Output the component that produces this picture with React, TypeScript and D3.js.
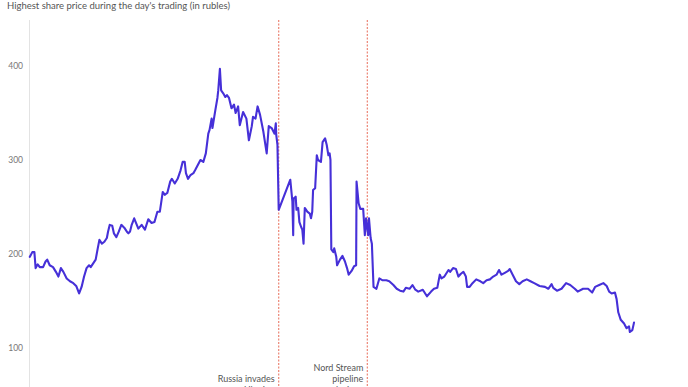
import * as d3 from "d3";

const dates = [
  "2020-07-03", "2020-07-09", "2020-07-14", "2020-07-17", "2020-07-22", "2020-07-27",
  "2020-08-04", "2020-08-10", "2020-08-14", "2020-08-20", "2020-08-28", "2020-09-04",
  "2020-09-10", "2020-09-16", "2020-09-22", "2020-09-30", "2020-10-08", "2020-10-16",
  "2020-10-23", "2020-10-30", "2020-11-05", "2020-11-11", "2020-11-17", "2020-11-23",
  "2020-11-27", "2020-12-03", "2020-12-09", "2020-12-14", "2020-12-18", "2020-12-24",
  "2020-12-30", "2021-01-05", "2021-01-08", "2021-01-12", "2021-01-18", "2021-01-22",
  "2021-01-28", "2021-02-03", "2021-02-09", "2021-02-16", "2021-02-22", "2021-02-26",
  "2021-03-02", "2021-03-06", "2021-03-12", "2021-03-22", "2021-03-30", "2021-04-07",
  "2021-04-15", "2021-04-23", "2021-04-30", "2021-05-07", "2021-05-13", "2021-05-20",
  "2021-05-25", "2021-05-31", "2021-06-07", "2021-06-11", "2021-06-18", "2021-06-25",
  "2021-07-02", "2021-07-07", "2021-07-12", "2021-07-15", "2021-07-20", "2021-07-26",
  "2021-08-02", "2021-08-06", "2021-08-13", "2021-08-19", "2021-08-26", "2021-09-01",
  "2021-09-07", "2021-09-10", "2021-09-15", "2021-09-17", "2021-09-24", "2021-09-29",
  "2021-10-01", "2021-10-05", "2021-10-08", "2021-10-13", "2021-10-18", "2021-10-22",
  "2021-10-27", "2021-11-02", "2021-11-08", "2021-11-12", "2021-11-18", "2021-11-22",
  "2021-11-30", "2021-12-08", "2021-12-14", "2021-12-21", "2021-12-24", "2021-12-30",
  "2022-01-04", "2022-01-10", "2022-01-18", "2022-01-26", "2022-01-31", "2022-02-07",
  "2022-02-14", "2022-02-17", "2022-02-18", "2022-02-21", "2022-02-24", "2022-03-24",
  "2022-03-29", "2022-03-31", "2022-04-01", "2022-04-06", "2022-04-08", "2022-04-12",
  "2022-04-15", "2022-04-19", "2022-04-22", "2022-04-25", "2022-04-28", "2022-05-04",
  "2022-05-10", "2022-05-13", "2022-05-16", "2022-05-18", "2022-05-23", "2022-05-27",
  "2022-05-30", "2022-06-06", "2022-06-10", "2022-06-16", "2022-06-20", "2022-06-24",
  "2022-06-27", "2022-06-29", "2022-07-01", "2022-07-06", "2022-07-08", "2022-07-13",
  "2022-07-15", "2022-07-22", "2022-07-28", "2022-08-03", "2022-08-08", "2022-08-12",
  "2022-08-19", "2022-08-25", "2022-08-30", "2022-08-31", "2022-09-05", "2022-09-09",
  "2022-09-16", "2022-09-20", "2022-09-23", "2022-09-28", "2022-09-30", "2022-10-04",
  "2022-10-07", "2022-10-11", "2022-10-18", "2022-10-25", "2022-11-02", "2022-11-11",
  "2022-11-18", "2022-11-28", "2022-12-06", "2022-12-14", "2022-12-22", "2022-12-28",
  "2023-01-06", "2023-01-13", "2023-01-20", "2023-01-27", "2023-02-07", "2023-02-17",
  "2023-02-27", "2023-03-06", "2023-03-14", "2023-03-20", "2023-03-24", "2023-03-31",
  "2023-04-10", "2023-04-14", "2023-04-21", "2023-04-28", "2023-05-04", "2023-05-10",
  "2023-05-16", "2023-05-22", "2023-05-25", "2023-05-31", "2023-06-07", "2023-06-16",
  "2023-06-26", "2023-07-03", "2023-07-11", "2023-07-19", "2023-07-27", "2023-08-04",
  "2023-08-10", "2023-08-16", "2023-08-24", "2023-09-01", "2023-09-05", "2023-09-12",
  "2023-09-20", "2023-09-28", "2023-10-06", "2023-10-16", "2023-10-25", "2023-11-03",
  "2023-11-16", "2023-11-29", "2023-12-07", "2023-12-15", "2023-12-19", "2023-12-28",
  "2024-01-08", "2024-01-19", "2024-01-29", "2024-02-09", "2024-02-16", "2024-02-29",
  "2024-03-12", "2024-03-22", "2024-03-29", "2024-04-08", "2024-04-18", "2024-04-26",
  "2024-05-02", "2024-05-08", "2024-05-16", "2024-05-20", "2024-05-24", "2024-05-30",
  "2024-06-07", "2024-06-13", "2024-06-19", "2024-06-21", "2024-06-27", "2024-07-01",
];

// highest price of the day, rubles
const prices = [
  197, 202, 202, 185, 189, 186,
  186, 192, 194, 188, 186, 181,
  176, 185, 181, 174, 171, 169,
  166, 158, 165, 176, 185, 188,
  186, 190, 194, 206, 215, 211,
  213, 217, 224, 231, 230, 222,
  218, 224, 231, 228, 224, 222,
  224, 231, 238, 227, 231, 226,
  237, 233, 234, 245, 245, 266,
  263, 265, 277, 280, 275, 280,
  289, 298, 298, 286, 280, 284,
  286, 289, 295, 300, 298, 307,
  328, 332, 344, 334, 353, 366,
  374, 397, 374, 371, 367, 369,
  366, 355, 359, 350, 357, 337,
  351, 344, 321, 336, 346, 344,
  357, 348, 330, 307, 336, 334,
  328, 339, 327, 316, 247, 279,
  256, 220, 259, 261, 247, 249,
  234, 229, 226, 211, 249, 245,
  243, 238, 245, 268, 270, 305,
  300, 298, 319, 323, 316, 305,
  307, 300, 205, 202, 206, 197,
  188, 194, 198, 192, 185, 178,
  182, 187, 188, 277, 254, 248,
  248, 220, 238, 220, 238, 217,
  211, 165, 163, 174, 172, 172,
  171, 167, 163, 161, 160, 164,
  163, 167, 162, 160, 162, 155,
  160, 163, 164, 178, 174, 176,
  183, 181, 185, 184, 176, 179,
  181, 176, 165, 165, 169, 173,
  171, 169, 172, 173, 176, 178,
  183, 178, 180, 182, 184, 178,
  171, 168, 171, 173, 171, 169,
  166, 165, 163, 168, 164, 161,
  163, 169, 167, 163, 160, 163,
  163, 159, 165, 167, 169, 166,
  160, 158, 159, 152, 138, 130,
  126, 121, 123, 117, 119, 127,
];

const yTicks = [100, 200, 300, 400];

const eventDates = ["2022-02-24", "2022-09-26"];
const eventLabels = [
  ["Russia invades", "Ukraine"],
  ["Nord Stream", "pipeline", "explosions"],
];

const TITLE = "Highest share price during the day's trading (in rubles)";

const WIDTH = 688;
const HEIGHT = 387;
const FONT = "Lato, 'Noto Sans', sans-serif";

const parse = d3.timeParse("%Y-%m-%d");

export default function App() {
  const points = dates.map((d, i) => ({ date: parse(d) as Date, value: prices[i] }));

  const x = d3
    .scaleTime()
    .domain([parse("2020-07-01") as Date, parse("2024-07-01") as Date])
    .range([29, 634]);

  const y = d3.scaleLinear().domain([100, 400]).range([348, 66]);

  const line = d3
    .line<{ date: Date; value: number }>()
    .x((d) => x(d.date))
    .y((d) => y(d.value));

  const plotTop = 20;

  return (
    <div style={{ position: "absolute", left: 0, top: 0 }}>
      <svg width={WIDTH} height={HEIGHT} style={{ display: "block", overflow: "hidden" }} fontFamily={FONT}>
        <rect width={WIDTH} height={HEIGHT} fill="#fff" />
        <text x={7} y={9} fontSize={9.5} fill="#555">
          {TITLE}
        </text>

        {/* left axis line */}
        <line x1={29.5} x2={29.5} y1={plotTop} y2={HEIGHT} stroke="#e3e3e3" strokeWidth={1} />

        {yTicks.map((t) => (
          <text
            key={t}
            x={23}
            y={y(t)}
            dy="0.35em"
            textAnchor="end"
            fontSize={8.5}
            fill="#777"
          >
            {t}
          </text>
        ))}

        {eventDates.map((d, i) => {
          const ex = x(parse(d) as Date);
          const lines = eventLabels[i];
          const baseY = 393 - (lines.length - 1) * 11;
          return (
            <g key={d}>
              <line
                x1={ex}
                x2={ex}
                y1={plotTop}
                y2={HEIGHT}
                stroke="#ec8474"
                strokeWidth={1.2}
                strokeDasharray="2 1.5"
              />
              <text x={ex - 4} textAnchor="end" fontSize={9} fill="#555">
                {lines.map((l, j) => (
                  <tspan key={j} x={ex - 4} y={baseY + j * 11}>
                    {l}
                  </tspan>
                ))}
              </text>
            </g>
          );
        })}

        <path
          d={line(points) ?? ""}
          fill="none"
          stroke="#4630d8"
          strokeWidth={2.1}
          strokeLinejoin="round"
          strokeLinecap="round"
        />
      </svg>
    </div>
  );
}
